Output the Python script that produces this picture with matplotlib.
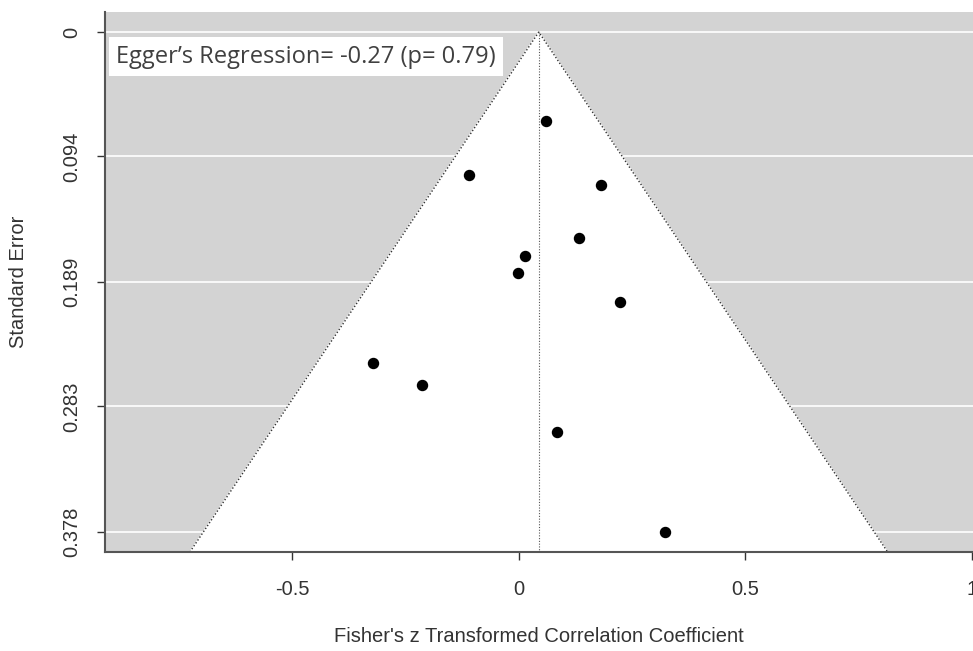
import numpy as np
import matplotlib
matplotlib.use("Agg")
import matplotlib.pyplot as plt

# study estimates (Fisher's z) and standard errors
z_vals = [0.060, -0.110, 0.182, 0.133, 0.014, -0.002, 0.224, -0.322, -0.214, 0.085, 0.322]
se_vals = [0.067, 0.108, 0.116, 0.156, 0.169, 0.182, 0.204, 0.250, 0.267, 0.302, 0.378]
pooled = 0.044
se_ticks = [0, 0.094, 0.189, 0.283, 0.378]
se_ticklabels = ["0", "0.094", "0.189", "0.283", "0.378"]
x_ticks = [-0.5, 0, 0.5, 1]
x_ticklabels = ["-0.5", "0", "0.5", "1"]
egger_text = "Egger\u2019s Regression= -0.27 (p= 0.79)"

se_max = max(se_vals)
ylo, yhi = -0.04 * se_max, se_max * 1.04
xlo, xhi = -0.914, 1.003

fig = plt.figure(figsize=(9.73, 6.51), dpi=100)
ax = fig.add_axes([105 / 973, 0.152, (973 - 105) / 973, 0.8295])
ax.set_facecolor("#d3d3d3")

for t in se_ticks:
    ax.axhline(t, color="white", lw=1.2, zorder=1)

# funnel (95% pseudo confidence region)
half = 1.96 * yhi
ax.fill([pooled - half, pooled, pooled + half], [yhi, 0, yhi], color="white", zorder=2)
ax.plot([pooled - half, pooled, pooled + half], [yhi, 0, yhi], ls=(0, (1, 1.5)),
        color="#333333", lw=1, zorder=3)
ax.plot([pooled, pooled], [0, yhi], ls=(0, (1, 1.5)), color="#555555", lw=0.8, zorder=3)

ax.scatter(z_vals, se_vals, s=52, color="black", zorder=4)

ax.set_xlim(xlo, xhi)
ax.set_ylim(yhi, ylo)
ax.set_yticks(se_ticks)
ax.set_yticklabels(se_ticklabels, rotation=90, va="center")
ax.set_xticks(x_ticks)
ax.set_xticklabels(x_ticklabels)

for s in ["top", "right"]:
    ax.spines[s].set_visible(False)
for s in ["left", "bottom"]:
    ax.spines[s].set_color("#555555")
    ax.spines[s].set_linewidth(1.5)
    ax.spines[s].set_zorder(5)

ax.tick_params(axis="both", direction="out", length=6, width=1, color="#333333",
               labelsize=14.5, labelcolor="#333333")
ax.tick_params(axis="x", pad=14)
ax.tick_params(axis="y", pad=11)
for lab in ax.get_xticklabels() + ax.get_yticklabels():
    lab.set_family("Liberation Sans")

ax.set_xlabel("Fisher's z Transformed Correlation Coefficient", family="Liberation Sans",
              fontsize=14.5, color="#333333", va="center")
ax.set_ylabel("Standard Error", family="Liberation Sans", fontsize=14.5, color="#333333",
              va="center")
ax.xaxis.set_label_coords(0.5, -(636 - 552) / 540)
ax.yaxis.set_label_coords(-(105 - 19) / 868, 0.5)

ax.text(-0.889, 0.0185, egger_text, family="Open Sans", fontsize=17, color="#404040",
        va="center", ha="left", zorder=6,
        bbox=dict(facecolor="white", edgecolor="none", boxstyle="square,pad=0.3"))

fig.savefig("out.png", dpi=100)
